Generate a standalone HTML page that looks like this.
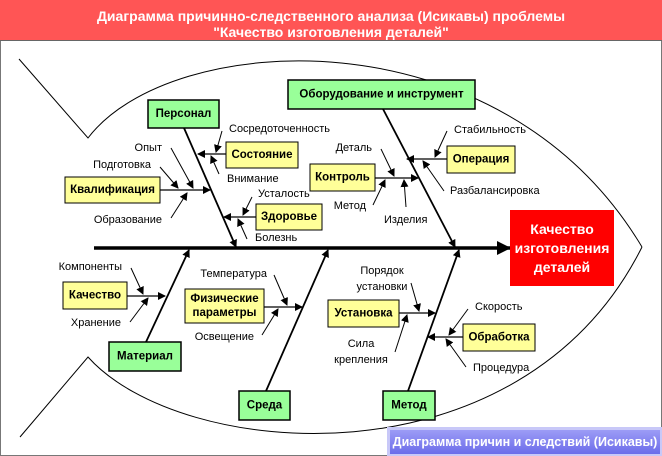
<!DOCTYPE html>
<html><head><meta charset="utf-8"><style>
html,body{margin:0;padding:0;background:#fff;}
svg{display:block;font-family:"Liberation Sans",Arial,sans-serif;}
.l{font-size:11px;fill:#000;}
.b{font-size:11.5px;font-weight:bold;fill:#000;}
.g{fill:#99ff99;stroke:#000;stroke-width:1.5;}
.y{fill:#ffff99;stroke:#000;stroke-width:1;}
</style></head><body>
<svg width="662" height="456" viewBox="0 0 662 456" xmlns="http://www.w3.org/2000/svg">
<defs>
<marker id="a" markerWidth="8" markerHeight="8" refX="7" refY="4" orient="auto" markerUnits="userSpaceOnUse"><path d="M0,0 L8,4 L0,8 z" fill="#000"/></marker>
<marker id="A" markerWidth="14" markerHeight="14" refX="13" refY="7" orient="auto" markerUnits="userSpaceOnUse"><path d="M0,0 L14,7 L0,14 z" fill="#000"/></marker>
<linearGradient id="pg" x1="0" y1="0" x2="0" y2="1"><stop offset="0" stop-color="#9c9cf6"/><stop offset="1" stop-color="#6c6cea"/></linearGradient>
</defs>
<rect x="0.5" y="0.5" width="661" height="455" fill="#fff" stroke="#777"/>
<rect x="0" y="0" width="662" height="40" fill="#ff5555"/>
<line x1="0" y1="40.5" x2="662" y2="40.5" stroke="#666"/>
<text x="331" y="16" text-anchor="middle" dominant-baseline="central" fill="#fff" font-size="14" font-weight="bold">Диаграмма причинно-следственного анализа (Исикавы) проблемы</text>
<text x="331" y="32" text-anchor="middle" dominant-baseline="central" fill="#fff" font-size="14" font-weight="bold">"Качество изготовления деталей"</text>

<!-- fish -->
<g fill="none" stroke="#000" stroke-width="1">
<path d="M19,59 L88,138 C170,30 500,10 642,247"/>
<path d="M20,437 L88,357 C180,460 520,490 642,247"/>
</g>

<!-- spine -->
<line x1="94" y1="248" x2="510" y2="248" stroke="#000" stroke-width="3.5" marker-end="url(#A)"/>
<rect x="510" y="210" width="104" height="76" fill="#ff0000"/>
<text x="562" y="229" text-anchor="middle" dominant-baseline="central" fill="#fff" font-size="14" font-weight="bold">Качество</text>
<text x="562" y="248" text-anchor="middle" dominant-baseline="central" fill="#fff" font-size="14" font-weight="bold">изготовления</text>
<text x="562" y="267" text-anchor="middle" dominant-baseline="central" fill="#fff" font-size="14" font-weight="bold">деталей</text>

<!-- main bones -->
<g stroke="#000" stroke-width="1.8" marker-end="url(#a)">
<line x1="184" y1="128" x2="236" y2="247"/>
<line x1="383" y1="109" x2="455" y2="247"/>
<line x1="146" y1="342" x2="189" y2="250"/>
<line x1="266" y1="391" x2="328" y2="250"/>
<line x1="408" y1="391" x2="459" y2="250"/>
</g>

<!-- sub bones -->
<g stroke="#000" stroke-width="1.3" marker-end="url(#a)">
<line x1="226" y1="154" x2="198" y2="154"/>
<line x1="160" y1="190" x2="210" y2="190"/>
<line x1="256" y1="217" x2="224" y2="217"/>
<line x1="375" y1="178" x2="418" y2="178"/>
<line x1="447" y1="159" x2="407" y2="159"/>
<line x1="127" y1="296" x2="165" y2="296"/>
<line x1="264" y1="307" x2="302" y2="307"/>
<line x1="399" y1="313" x2="435" y2="313"/>
<line x1="463" y1="337" x2="428" y2="337"/>
</g>

<!-- small arrows -->
<g stroke="#000" stroke-width="1" marker-end="url(#a)">
<line x1="222" y1="131" x2="216" y2="152"/>
<line x1="219" y1="174" x2="211" y2="156"/>
<line x1="171" y1="148" x2="193" y2="188"/>
<line x1="160" y1="167" x2="178" y2="188"/>
<line x1="171" y1="218" x2="187" y2="193"/>
<line x1="252" y1="197" x2="243" y2="215"/>
<line x1="247" y1="239" x2="238" y2="219"/>
<line x1="381" y1="149" x2="394" y2="176"/>
<line x1="373" y1="205" x2="385" y2="180"/>
<line x1="406" y1="207" x2="404" y2="180"/>
<line x1="447" y1="131" x2="435" y2="157"/>
<line x1="444" y1="191" x2="423" y2="161"/>
<line x1="131" y1="268" x2="143" y2="294"/>
<line x1="130" y1="322" x2="148" y2="298"/>
<line x1="274" y1="275" x2="287" y2="305"/>
<line x1="262" y1="335" x2="278" y2="309"/>
<line x1="411" y1="283" x2="419" y2="311"/>
<line x1="395" y1="352" x2="407" y2="315"/>
<line x1="468" y1="309" x2="449" y2="335"/>
<line x1="466" y1="367" x2="446" y2="339"/>
</g>

<!-- category boxes -->
<rect class="g" x="148" y="100" width="71" height="28"/>
<text class="b" x="183.5" y="114" text-anchor="middle" dominant-baseline="central" font-size="12.5">Персонал</text>
<rect class="g" x="288" y="80" width="187" height="29"/>
<text class="b" x="381.5" y="94.5" text-anchor="middle" dominant-baseline="central" font-size="12.5">Оборудование и инструмент</text>
<rect class="g" x="109" y="342" width="72" height="29"/>
<text class="b" x="145" y="356.5" text-anchor="middle" dominant-baseline="central" font-size="12.5">Материал</text>
<rect class="g" x="239" y="391" width="51" height="29"/>
<text class="b" x="264.5" y="405.5" text-anchor="middle" dominant-baseline="central" font-size="12.5">Среда</text>
<rect class="g" x="383" y="391" width="52" height="29"/>
<text class="b" x="409" y="405.5" text-anchor="middle" dominant-baseline="central" font-size="12.5">Метод</text>

<!-- cause boxes -->
<rect class="y" x="226" y="142" width="72" height="26"/>
<text class="b" x="262" y="155" text-anchor="middle" dominant-baseline="central">Состояние</text>
<rect class="y" x="65" y="177" width="95" height="26"/>
<text class="b" x="112.5" y="190" text-anchor="middle" dominant-baseline="central">Квалификация</text>
<rect class="y" x="256" y="204" width="66" height="26"/>
<text class="b" x="289" y="217" text-anchor="middle" dominant-baseline="central">Здоровье</text>
<rect class="y" x="310" y="164" width="65" height="27"/>
<text class="b" x="342.5" y="177.5" text-anchor="middle" dominant-baseline="central">Контроль</text>
<rect class="y" x="447" y="146" width="68" height="27"/>
<text class="b" x="481" y="159.5" text-anchor="middle" dominant-baseline="central">Операция</text>
<rect class="y" x="63" y="282" width="64" height="27"/>
<text class="b" x="95" y="295.5" text-anchor="middle" dominant-baseline="central">Качество</text>
<rect class="y" x="185" y="289" width="79" height="34"/>
<text class="b" x="224.5" y="299" text-anchor="middle" dominant-baseline="central">Физические</text>
<text class="b" x="224.5" y="313" text-anchor="middle" dominant-baseline="central">параметры</text>
<rect class="y" x="328" y="300" width="71" height="27"/>
<text class="b" x="363.5" y="313.5" text-anchor="middle" dominant-baseline="central">Установка</text>
<rect class="y" x="463" y="324" width="72" height="27"/>
<text class="b" x="499" y="337.5" text-anchor="middle" dominant-baseline="central">Обработка</text>

<!-- labels -->
<g class="l" dominant-baseline="central">
<text x="229" y="129">Сосредоточенность</text>
<text x="227" y="179">Внимание</text>
<text x="162" y="148" text-anchor="end">Опыт</text>
<text x="151" y="165" text-anchor="end">Подготовка</text>
<text x="162" y="220" text-anchor="end">Образование</text>
<text x="258" y="194">Усталость</text>
<text x="255" y="238">Болезнь</text>
<text x="372" y="148" text-anchor="end">Деталь</text>
<text x="366" y="206" text-anchor="end">Метод</text>
<text x="384" y="220">Изделия</text>
<text x="454" y="130">Стабильность</text>
<text x="450" y="191">Разбалансировка</text>
<text x="122" y="267" text-anchor="end">Компоненты</text>
<text x="121" y="323" text-anchor="end">Хранение</text>
<text x="267" y="274" text-anchor="end">Температура</text>
<text x="254" y="337" text-anchor="end">Освещение</text>
<text x="382" y="271" text-anchor="middle">Порядок</text>
<text x="382" y="287" text-anchor="middle">установки</text>
<text x="361" y="344" text-anchor="middle">Сила</text>
<text x="361" y="360" text-anchor="middle">крепления</text>
<text x="475" y="307">Скорость</text>
<text x="473" y="368">Процедура</text>
</g>

<!-- bottom label -->
<rect x="387" y="427" width="275" height="29" fill="#c8c8f8"/>
<rect x="390" y="430" width="270" height="24" fill="url(#pg)"/>
<text x="525" y="442" text-anchor="middle" dominant-baseline="central" fill="#fff" font-size="12.5" font-weight="bold">Диаграмма причин и следствий (Исикавы)</text>
</svg>
</body></html>
